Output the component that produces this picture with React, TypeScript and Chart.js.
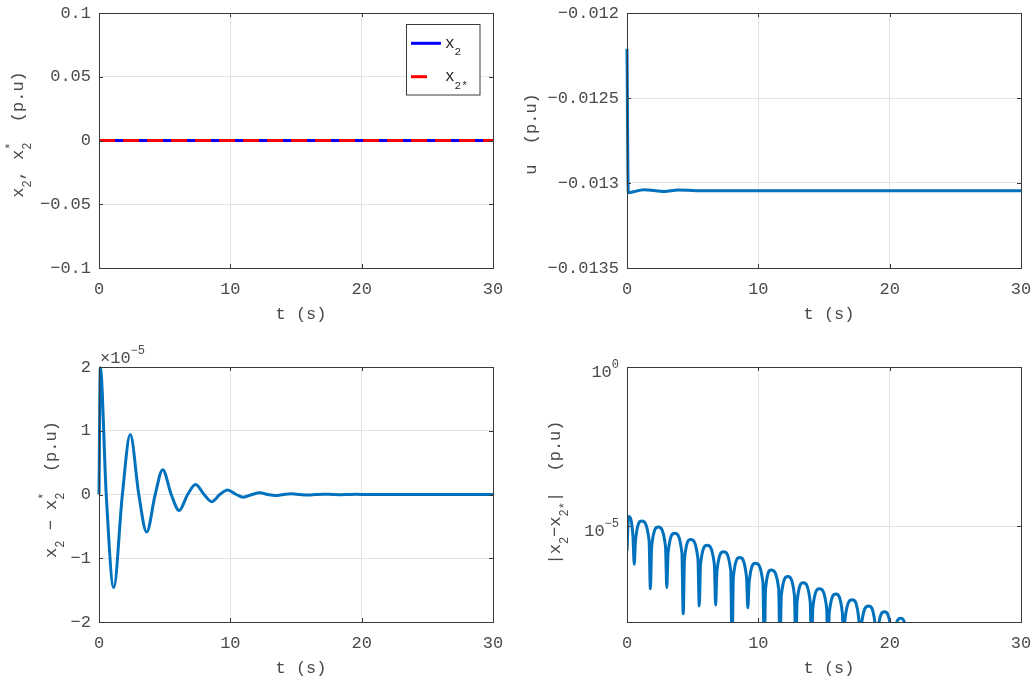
import React, { useEffect, useRef } from 'react';
import { Chart, registerables } from 'chart.js';

Chart.register(...registerables);

const FONT = '"Liberation Mono", "DejaVu Sans Mono", monospace';
const TXT = '#4a4a4a';
const AXIS = '#3a3a3a';
const GRID = '#e3e3e3';
const MBLUE = '#0072BD';

// ---------- data ----------
const X_TICKS = [0, 10, 20, 30];
const X_LABELS = ['0', '10', '20', '30'];

// top-left: x2 and x2*
const TL_T = [0, 30];
const TL_X2 = [0, 0];
const TL_X2S = [0, 0];
const TL_Y_TICKS = [-0.1, -0.05, 0, 0.05, 0.1];
const TL_Y_LABELS = ['\u22120.1', '\u22120.05', '0', '0.05', '0.1'];

// top-right: u
const U_T = [0, 0.1, 1.3, 2.85, 3.9, 5.3, 30];
const U_V = [-0.01221, -0.013057, -0.013039, -0.01305, -0.013041, -0.013045, -0.013045];
const TR_Y_TICKS = [-0.0135, -0.013, -0.0125, -0.012];
const TR_Y_LABELS = ['\u22120.0135', '\u22120.013', '\u22120.0125', '\u22120.012'];

// bottom-left: x2 - x2*
const E_T = [0, 0.1, 0.55, 1.12, 1.78, 2.38, 3.03, 3.63, 4.28, 4.85, 5.5, 6.1, 6.75, 7.35, 8.0, 8.58, 9.2, 9.78, 10.45, 10.98, 11.65, 12.24, 12.85, 13.42, 14.05, 14.65, 15.3, 15.9, 16.5, 17.15, 17.75, 18.4, 19.0, 19.6, 20.2, 20.85, 21.45, 30];
const E_V = [0, 1.99e-5, 0, -1.46e-5, 0, 0.94e-5, 0, -0.59e-5, 0, 0.39e-5, 0, -0.25e-5, 0, 0.157e-5, 0, -0.112e-5, 0, 0.072e-5, 0, -0.043e-5, 0, 0.027e-5, 0, -0.017e-5, 0, 0.011e-5, 0, -0.0076e-5, 0, 0.005e-5, 0, -0.0032e-5, 0, 0.002e-5, 0, -0.0013e-5, 0, 0];
const BL_Y_TICKS = [-2e-5, -1e-5, 0, 1e-5, 2e-5];
const BL_Y_LABELS = ['\u22122', '\u22121', '0', '1', '2'];

// bottom-right: |x2 - x2*| (log)
const A_T = [
  0, 0.12, 0.45, 0.55,
  0.65, 1.12, 1.68, 1.78,
  1.88, 2.38, 2.93, 3.03,
  3.13, 3.63, 4.18, 4.28,
  4.38, 4.85, 5.4, 5.5,
  5.6, 6.1, 6.65, 6.75,
  6.85, 7.35, 7.9, 8.0,
  8.1, 8.58, 9.1, 9.2,
  9.3, 9.78, 10.35, 10.45,
  10.55, 10.98, 11.55, 11.65,
  11.75, 12.24, 12.75, 12.85,
  12.95, 13.42, 13.95, 14.05,
  14.15, 14.65, 15.2, 15.3,
  15.4, 15.9, 16.4, 16.5,
  16.6, 17.15, 17.65, 17.75,
  17.85, 18.4, 18.9, 19.0,
  19.1, 19.6, 20.1, 20.2,
  20.3, 20.85, 21.35, 21.45,
];
const A_V = [
  1.7e-6, 2.05e-5, 5.1e-6, 6.5e-7,
  3.7e-6, 1.48e-5, 3.7e-6, 1.1e-7,
  2.4e-6, 9.5e-6, 2.4e-6, 1.2e-7,
  1.5e-6, 6.1e-6, 1.5e-6, 1.8e-8,
  9.8e-7, 3.9e-6, 9.8e-7, 3.2e-8,
  6.4e-7, 2.55e-6, 6.4e-7, 3.4e-8,
  4e-7, 1.6e-6, 4e-7, 1e-9,
  2.6e-7, 1.05e-6, 2.6e-7, 2.8e-8,
  1.75e-7, 7e-7, 1.75e-7, 1e-9,
  1.1e-7, 4.3e-7, 1.1e-7, 1e-9,
  6.8e-8, 2.7e-7, 6.8e-8, 1e-9,
  4.3e-8, 1.7e-7, 4.3e-8, 1e-9,
  2.8e-8, 1.1e-7, 2.8e-8, 1e-9,
  1.9e-8, 7.6e-8, 1.9e-8, 1e-9,
  1.25e-8, 5e-8, 1.25e-8, 1e-9,
  8e-9, 3.2e-8, 8e-9, 1e-9,
  5.3e-9, 2.1e-8, 5.3e-9, 1e-9,
  3.3e-9, 1.3e-8, 3.3e-9, 1e-9,
];
const BR_Y_TICKS = [1e-5, 1];
const BR_Y_EXP = ['\u22125', '0'];

// ---------- helpers ----------
type Seg = { t?: string; sub?: string; sup?: string };

function drawRich(
  ctx: CanvasRenderingContext2D, segs: Seg[], x: number, y: number, size: number,
  align: 'left' | 'center' | 'right', color: string,
  small = Math.round(size * 0.72), subDy = size * 0.6, supDy = -size * 0.45,
) {
  const big = `${size}px ${FONT}`;
  const sm = `${small}px ${FONT}`;
  const widths = segs.map((s) => {
    ctx.font = big;
    const a = s.t ? ctx.measureText(s.t).width : 0;
    ctx.font = sm;
    const b = Math.max(s.sub ? ctx.measureText(s.sub).width : 0, s.sup ? ctx.measureText(s.sup).width : 0);
    return [a, b];
  });
  const total = widths.reduce((acc, [a, b]) => acc + a + b, 0);
  let cx = align === 'left' ? x : align === 'center' ? x - total / 2 : x - total;
  ctx.fillStyle = color;
  ctx.textAlign = 'left';
  ctx.textBaseline = 'middle';
  segs.forEach((s, i) => {
    const [a, b] = widths[i];
    if (s.t) { ctx.font = big; ctx.fillText(s.t, cx, y); }
    cx += a;
    ctx.font = sm;
    if (s.sub) ctx.fillText(s.sub, cx, y + subDy);
    if (s.sup) ctx.fillText(s.sup, cx, y + supDy);
    cx += b;
  });
}

const pts = (t: number[], v: number[]) => t.map((x, i) => ({ x, y: v[i] }));

interface PanelCfg {
  x: number; y: number; w: number; h: number;
  area: [number, number, number, number];
  yType: 'linear' | 'logarithmic';
  yMin: number; yMax: number;
  yTicks: number[]; yLabels: string[];
  logLabels?: boolean;
  datasets: any[];
  yTitle: Seg[]; yTitleDx: number; yTitleDy: number;
  legend?: boolean;
  multiplier?: boolean;
}

const mline = (t: number[], v: number[]) => ({
  data: pts(t, v), borderColor: MBLUE, borderWidth: 3, cubicInterpolationMode: 'monotone',
  borderJoinStyle: 'round', pointRadius: 0,
});

const PANELS: PanelCfg[] = [
  {
    x: 0, y: 0, w: 517, h: 340, area: [99, 13, 493, 268],
    yType: 'linear', yMin: -0.1, yMax: 0.1, yTicks: TL_Y_TICKS, yLabels: TL_Y_LABELS,
    datasets: [
      { data: pts(TL_T, TL_X2), borderColor: '#0000FF', borderWidth: 3, pointRadius: 0, order: 1 },
      { data: pts(TL_T, TL_X2S), borderColor: '#FF0000', borderWidth: 3, borderDash: [16, 8], pointRadius: 0, order: 0 },
    ],
    yTitle: [{ t: 'x', sub: '2' }, { t: ', ' }, { t: 'x', sub: '2', sup: '*' }, { t: '  (p.u)' }],
    yTitleDx: -81, yTitleDy: -6, legend: true,
  },
  {
    x: 517, y: 0, w: 517, h: 340, area: [110, 13, 504, 268],
    yType: 'linear', yMin: -0.0135, yMax: -0.012, yTicks: TR_Y_TICKS, yLabels: TR_Y_LABELS,
    datasets: [{ ...mline(U_T, U_V), clip: 3 }],
    yTitle: [{ t: 'u  (p.u)' }], yTitleDx: -96, yTitleDy: -6.5,
  },
  {
    x: 0, y: 340, w: 517, h: 343, area: [99, 27, 493, 282],
    yType: 'linear', yMin: -2e-5, yMax: 2e-5, yTicks: BL_Y_TICKS, yLabels: BL_Y_LABELS,
    datasets: [{ ...mline(E_T, E_V), clip: 3 }],
    yTitle: [{ t: 'x', sub: '2' }, { t: ' \u2212 ' }, { t: 'x', sub: '2', sup: '*' }, { t: '  (p.u)' }],
    yTitleDx: -48, yTitleDy: -5, multiplier: true,
  },
  {
    x: 517, y: 340, w: 517, h: 343, area: [110, 27, 504, 282],
    yType: 'logarithmic', yMin: 1e-8, yMax: 1, yTicks: BR_Y_TICKS, yLabels: BR_Y_EXP, logLabels: true,
    datasets: [mline(A_T, A_V)],
    yTitle: [{ t: '|x', sub: '2' }, { t: '\u2212x', sub: '2*' }, { t: '|  (p.u)' }],
    yTitleDx: -72, yTitleDy: -2,
  },
];

const zeroPad = (s: any) => {
  s.paddingTop = 0; s.paddingBottom = 0; s.paddingLeft = 0; s.paddingRight = 0;
};

function PanelChart({ cfg }: { cfg: PanelCfg }) {
  const ref = useRef<HTMLCanvasElement>(null);
  useEffect(() => {
    const canvas = ref.current;
    if (!canvas) return;
    const [l, t, r, b] = cfg.area;
    const deco = {
      id: 'deco',
      afterDraw(chart: any) {
        const ctx: CanvasRenderingContext2D = chart.ctx;
        const ca = chart.chartArea;
        const xs = chart.scales.x;
        const ys = chart.scales.y;
        ctx.save();
        // box
        ctx.strokeStyle = AXIS;
        ctx.lineWidth = 1;
        ctx.setLineDash([]);
        ctx.strokeRect(ca.left + 0.5, ca.top + 0.5, ca.right - ca.left, ca.bottom - ca.top);
        // inward ticks
        ctx.beginPath();
        X_TICKS.forEach((v) => {
          const px = Math.round(xs.getPixelForValue(v)) + 0.5;
          ctx.moveTo(px, ca.bottom); ctx.lineTo(px, ca.bottom - 4);
          ctx.moveTo(px, ca.top); ctx.lineTo(px, ca.top + 4);
        });
        cfg.yTicks.forEach((v) => {
          const py = Math.round(ys.getPixelForValue(v)) + 0.5;
          ctx.moveTo(ca.left, py); ctx.lineTo(ca.left + 4, py);
          ctx.moveTo(ca.right, py); ctx.lineTo(ca.right - 4, py);
        });
        ctx.stroke();
        // x title
        drawRich(ctx, [{ t: 't (s)' }], (ca.left + ca.right) / 2 + 5, ca.bottom + 46, 17, 'center', TXT);
        // y title
        ctx.save();
        ctx.translate(ca.left + cfg.yTitleDx, (ca.top + ca.bottom) / 2 + cfg.yTitleDy);
        ctx.rotate(-Math.PI / 2);
        drawRich(ctx, cfg.yTitle, 0, 0, 17, 'center', TXT);
        ctx.restore();
        // log tick labels
        if (cfg.logLabels) {
          cfg.yTicks.forEach((v, i) => {
            const py = ys.getPixelForValue(v);
            drawRich(ctx, [{ t: '10', sup: cfg.yLabels[i] }], ca.left - 8, py + 5.5, 17, 'right', TXT, 12, 0, -8);
          });
        }
        if (cfg.multiplier) {
          drawRich(ctx, [{ t: '\u00d710', sup: '\u22125' }], ca.left + 1, ca.top - 8.5, 17, 'left', TXT, 12, 0, -8);
        }
        if (cfg.legend) {
          const bx = ca.left + 307.5;
          const by = ca.top + 11.5;
          ctx.fillStyle = '#ffffff';
          ctx.fillRect(bx, by, 73.5, 70.5);
          ctx.strokeStyle = AXIS;
          ctx.lineWidth = 1;
          ctx.strokeRect(bx, by, 73.5, 70.5);
          const ds = chart.data.datasets;
          const rows = [
            { y: ca.top + 30.3, segs: [{ t: 'x', sub: '2' }] },
            { y: ca.top + 63.7, segs: [{ t: 'x', sub: '2*' }] },
          ];
          rows.forEach((row, i) => {
            const dash = ds[i].borderDash;
            const len = dash ? dash[0] : 30;
            ctx.save();
            ctx.strokeStyle = ds[i].borderColor;
            ctx.lineWidth = ds[i].borderWidth;
            ctx.beginPath();
            ctx.moveTo(ca.left + 312, row.y);
            ctx.lineTo(ca.left + 312 + len, row.y);
            ctx.stroke();
            ctx.restore();
            drawRich(ctx, row.segs, ca.left + 346, row.y, 16, 'left', '#262626', 11, 9);
          });
        }
        ctx.restore();
      },
    };
    const chart = new Chart(canvas, {
      type: 'line',
      data: { datasets: cfg.datasets },
      options: {
        responsive: false,
        animation: false,
        layout: { padding: { left: 0, top: t, right: cfg.w - r, bottom: 0 } },
        plugins: { legend: { display: false }, tooltip: { enabled: false } },
        elements: { point: { radius: 0 } },
        scales: {
          x: {
            type: 'linear', min: 0, max: 30,
            afterBuildTicks: (s: any) => { s.ticks = X_TICKS.map((v) => ({ value: v })); },
            afterFit: (s: any) => { s.height = cfg.h - b; zeroPad(s); },
            grid: { color: GRID, drawTicks: false, lineWidth: 1 },
            border: { display: false },
            ticks: {
              font: { family: FONT, size: 17 }, color: TXT, padding: 11, maxRotation: 0, minRotation: 0, autoSkip: false,
              callback: (_v: any, i: number) => X_LABELS[i],
            },
          },
          y: {
            type: cfg.yType, min: cfg.yMin, max: cfg.yMax,
            afterBuildTicks: (s: any) => { s.ticks = cfg.yTicks.map((v) => ({ value: v })); },
            afterFit: (s: any) => { s.width = l; zeroPad(s); },
            grid: { color: GRID, drawTicks: false, lineWidth: 1 },
            border: { display: false },
            ticks: {
              display: !cfg.logLabels,
              font: { family: FONT, size: 17 }, color: TXT, padding: 8, autoSkip: false,
              callback: (_v: any, i: number) => cfg.yLabels[i],
            },
          },
        },
      } as any,
      plugins: [deco],
    });
    return () => chart.destroy();
  }, [cfg]);
  return (
    <canvas
      ref={ref}
      width={cfg.w}
      height={cfg.h}
      style={{ position: 'absolute', left: cfg.x, top: cfg.y, width: cfg.w, height: cfg.h }}
    />
  );
}

export default function App() {
  return (
    <div style={{ position: 'fixed', left: 0, top: 0, width: 1034, height: 683, background: '#ffffff', overflow: 'hidden' }}>
      {PANELS.map((p, i) => (
        <PanelChart key={i} cfg={p} />
      ))}
    </div>
  );
}
